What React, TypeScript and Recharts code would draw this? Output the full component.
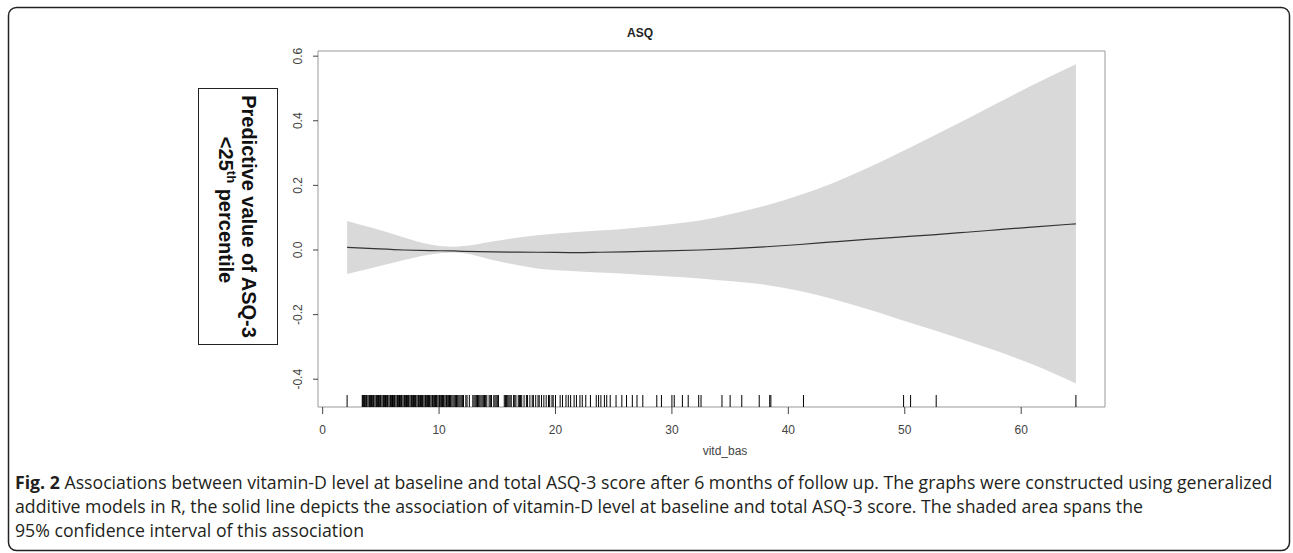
import React from "react";
import {
  ComposedChart,
  Area,
  Line,
  Scatter,
  XAxis,
  YAxis,
  ReferenceArea,
} from "recharts";

// ---- data ----
const bandX = [2.1, 4.4, 7.0, 9.25, 11.25, 12.1, 14.7, 18.4, 21.8, 23.8, 26.7, 29.5, 32.4, 35.2, 38.1, 41.0, 43.8, 46.7, 49.5, 52.4, 55.3, 58.1, 60.9, 64.7];
const bandUpper = [0.09, 0.067, 0.039, 0.017, 0.01, 0.012, 0.027, 0.046, 0.056, 0.06, 0.068, 0.078, 0.091, 0.112, 0.138, 0.17, 0.207, 0.252, 0.3, 0.352, 0.405, 0.457, 0.509, 0.575];
const bandLower = [-0.074, -0.054, -0.031, -0.014, -0.008, -0.01, -0.032, -0.057, -0.066, -0.07, -0.075, -0.081, -0.088, -0.097, -0.108, -0.127, -0.152, -0.182, -0.214, -0.247, -0.281, -0.315, -0.353, -0.413];
const bandFit = [0.008, 0.004, 0.0, -0.002, -0.003, -0.004, -0.006, -0.007, -0.008, -0.007, -0.005, -0.003, 0.0, 0.004, 0.01, 0.017, 0.025, 0.033, 0.04, 0.047, 0.055, 0.063, 0.071, 0.081];

const rugX = [
  2.1,
  3.4, 3.45, 3.5, 3.6, 3.7, 3.75, 3.8, 3.9, 4.0, 4.05, 4.1, 4.2, 4.3, 4.35, 4.4, 4.5, 4.6, 4.65, 4.7, 4.8,
  4.9, 4.95, 5.0, 5.1, 5.2, 5.25, 5.3, 5.4, 5.5, 5.55, 5.6, 5.7, 5.8, 5.85, 5.9, 6.0, 6.1, 6.15, 6.2, 6.3,
  6.4, 6.45, 6.5, 6.6, 6.7, 6.75, 6.8, 6.9, 7.0, 7.05, 7.1, 7.2, 7.3, 7.35, 7.4, 7.5, 7.6, 7.65, 7.7, 7.8,
  7.9, 7.95, 8.0, 8.1, 8.2, 8.25, 8.3, 8.4, 8.5, 8.55, 8.6, 8.7, 8.8, 8.85, 8.9, 9.0, 9.1, 9.15, 9.2, 9.3,
  9.4, 9.45, 9.5, 9.6, 9.7, 9.75, 9.8, 9.9, 10.0, 10.05, 10.1, 10.2, 10.3, 10.35, 10.4, 10.5, 10.6, 10.65,
  10.7, 10.8, 10.9, 10.95, 11.0, 11.1, 11.2, 11.3, 11.4, 11.5, 11.6, 11.7, 11.8, 11.9, 12.0, 12.1, 12.3,
  12.4, 12.6, 12.9, 13.0, 13.1, 13.2, 13.3, 13.4, 13.5, 13.6, 13.7, 13.8, 13.9, 14.0, 14.1, 14.3, 14.4,
  14.5, 14.7, 14.8, 14.9, 15.0, 15.1, 15.6, 15.7, 15.8, 15.9, 16.0, 16.1, 16.2, 16.4, 16.5, 16.6, 16.8,
  16.9, 17.0, 17.1, 17.3, 17.5, 17.6, 17.8, 18.0, 18.1, 18.3, 18.5, 18.6, 18.8, 19.0, 19.2, 19.4, 19.5,
  19.7, 19.8, 20.0, 20.4, 20.6, 20.9, 21.1, 21.3, 21.6, 21.8, 22.1, 22.3, 22.6, 23.0, 23.5, 23.7, 23.9,
  24.2, 24.4, 24.7, 25.2, 25.7, 26.1, 26.6, 27.0, 27.5, 28.7, 29.1, 30.0, 30.2, 30.9, 31.4, 32.3, 32.5,
  34.3, 35.0, 36.0, 37.5, 38.4, 38.5, 41.3, 49.9, 50.5, 52.7, 64.7,
];

const xTicks = [0, 10, 20, 30, 40, 50, 60];
const yTicks = [-0.4, -0.2, 0, 0.2, 0.4, 0.6];
const xDomain: [number, number] = [-0.4, 67.2];
const yDomain: [number, number] = [-0.486, 0.616];

const chartTitle = "ASQ";
const xLabel = "vitd_bas";
const yLabelLine1 = "Predictive value of ASQ-3";
const yLabelLine2a = "<25";
const yLabelLine2sup = "th";
const yLabelLine2b = " percentile";
const captionBold = "Fig. 2";
const captionLines = [
  " Associations between vitamin-D level at baseline and total ASQ-3 score after 6 months of follow up. The graphs were constructed using generalized",
  "additive models in R, the solid line depicts the association of vitamin-D level at baseline and total ASQ-3 score. The shaded area spans the",
  "95% confidence interval of this association",
];

const bandData = bandX.map((x, i) => ({
  x,
  range: [bandLower[i], bandUpper[i]],
  fit: bandFit[i],
}));
const rugData = rugX.map((x) => ({ x, y: yDomain[0] }));

const RugTick = (props: any) => {
  const { cx, cy } = props;
  if (cx == null || cy == null) return null;
  return <line x1={cx} x2={cx} y1={cy} y2={cy - 12} stroke="#000" strokeWidth={1} />;
};

const YTick = (props: any) => {
  const { x, y, payload } = props;
  return (
    <text
      x={x}
      y={y}
      transform={`rotate(-90, ${x}, ${y})`}
      textAnchor="middle"
      fontFamily="Liberation Sans, Arial, sans-serif"
      fontSize={12}
      fill="#444"
    >
      {Number(payload.value).toFixed(1)}
    </text>
  );
};

export default function App() {
  return (
    <div
      style={{
        position: "fixed",
        left: 0,
        top: 0,
        width: 1293,
        height: 553,
        background: "#fff",
        overflow: "hidden",
      }}
    >
      <div style={{ position: "absolute", left: 0, top: 0 }}>
        <ComposedChart
          width={1293}
          height={553}
          data={bandData}
          margin={{ top: 51, right: 188, bottom: 106, left: 278 }}
        >
          <XAxis
            dataKey="x"
            type="number"
            domain={xDomain}
            ticks={xTicks}
            allowDataOverflow
            axisLine={false}
            tickLine={{ stroke: "#444" }}
            tickSize={7}
            tickMargin={11}
            height={40}
            tick={{ fontSize: 12, fill: "#444", fontFamily: "Liberation Sans, Arial, sans-serif" }}
          />
          <YAxis
            type="number"
            domain={yDomain}
            ticks={yTicks}
            allowDataOverflow
            axisLine={false}
            tickLine={{ stroke: "#444" }}
            tickSize={5}
            tickMargin={11}
            width={40}
            tick={<YTick />}
          />
          <Area
            type="monotone"
            dataKey="range"
            stroke="none"
            fill="#d9d9d9"
            fillOpacity={1}
            isAnimationActive={false}
            dot={false}
            activeDot={false}
          />
          <Line
            type="monotone"
            dataKey="fit"
            stroke="#333"
            strokeWidth={1.2}
            dot={false}
            activeDot={false}
            isAnimationActive={false}
          />
          <Scatter
            data={rugData}
            dataKey="y"
            shape={<RugTick />}
            isAnimationActive={false}
          />
          <ReferenceArea
            x1={xDomain[0]}
            x2={xDomain[1]}
            y1={yDomain[0]}
            y2={yDomain[1]}
            fill="none"
            fillOpacity={0}
            stroke="#999"
            strokeWidth={1}
            ifOverflow="visible"
          />
        </ComposedChart>
      </div>

      <svg
        width={1293}
        height={553}
        style={{ position: "absolute", left: 0, top: 0, pointerEvents: "none" }}
      >
        <rect x={8.5} y={7.5} width={1281} height={543} rx={8} ry={8} fill="none" stroke="#222" strokeWidth={1.5} />
        <text
          x={640}
          y={37}
          textAnchor="middle"
          fontFamily="Liberation Sans, Arial, sans-serif"
          fontWeight="bold"
          fontSize={12}
          fill="#222"
        >
          {chartTitle}
        </text>
        <text
          x={725}
          y={455}
          textAnchor="middle"
          fontFamily="Liberation Sans, Arial, sans-serif"
          fontSize={12}
          fill="#444"
        >
          {xLabel}
        </text>
        <rect x={198.5} y={88.5} width={79} height={256} fill="none" stroke="#222" strokeWidth={1} />
        <text
          x={241.5}
          y={216.5}
          transform="rotate(90, 241.5, 216.5)"
          textAnchor="middle"
          fontFamily="Liberation Sans, Arial, sans-serif"
          fontWeight="bold"
          fontSize={20}
          fill="#111"
        >
          {yLabelLine1}
        </text>
        <text
          x={218.5}
          y={210}
          transform="rotate(90, 218.5, 210)"
          textAnchor="middle"
          fontFamily="Liberation Sans, Arial, sans-serif"
          fontWeight="bold"
          fontSize={20}
          fill="#111"
        >
          <tspan>{yLabelLine2a}</tspan>
          <tspan fontSize={13} dy={-8}>{yLabelLine2sup}</tspan>
          <tspan dy={8}>{yLabelLine2b}</tspan>
        </text>
      </svg>

      <div
        style={{
          position: "absolute",
          left: 15,
          top: 470,
          fontFamily: "'Open Sans', sans-serif",
          fontSize: 17.7,
          lineHeight: "24px",
          color: "#231f20",
          whiteSpace: "nowrap",
        }}
      >
        <div>
          <b>{captionBold}</b>
          {captionLines[0]}
        </div>
        <div>{captionLines[1]}</div>
        <div>{captionLines[2]}</div>
      </div>
    </div>
  );
}
